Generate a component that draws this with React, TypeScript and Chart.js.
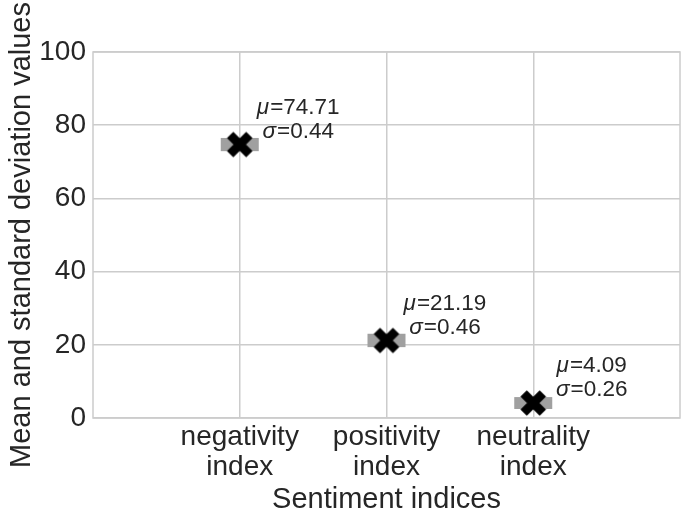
import React, { useEffect, useRef } from 'react';
import { Chart, registerables } from 'chart.js';

Chart.register(...registerables);

const categories: string[][] = [
  ['negativity', 'index'],
  ['positivity', 'index'],
  ['neutrality', 'index'],
];
const means = [74.71, 21.19, 4.09];
const stds = [0.44, 0.46, 0.26];
const yTickValues = [0, 20, 40, 60, 80, 100];

const FONT = "'Liberation Sans', Arial, sans-serif";
const TEXT = '#262626';
const GRID = '#cccccc';
const ERR = '#a0a0a0';

function makeXMarker(): HTMLCanvasElement {
  const c = document.createElement('canvas');
  c.width = 30;
  c.height = 30;
  const g = c.getContext('2d')!;
  g.translate(15, 15);
  g.strokeStyle = '#000';
  g.lineWidth = 9;
  g.lineCap = 'butt';
  const a = 9.6;
  g.beginPath();
  g.moveTo(-a, -a);
  g.lineTo(a, a);
  g.moveTo(a, -a);
  g.lineTo(-a, a);
  g.stroke();
  return c;
}

const decor = {
  id: 'decor',
  beforeDatasetsDraw(chart: any) {
    const { ctx, chartArea: ca, scales } = chart;
    const x = scales.x;
    const y = scales.y;
    ctx.save();
    ctx.strokeStyle = GRID;
    ctx.lineWidth = 1.5;
    ctx.strokeRect(ca.left, ca.top, ca.right - ca.left, ca.bottom - ca.top);
    ctx.fillStyle = ERR;
    means.forEach((m, i) => {
      const px = x.getPixelForValue(i);
      const top = y.getPixelForValue(m + stds[i]) - 5;
      const bot = y.getPixelForValue(m - stds[i]) + 5;
      ctx.fillRect(px - 19, top, 38, bot - top);
    });
    ctx.restore();
  },
  afterDatasetsDraw(chart: any) {
    const { ctx, scales } = chart;
    const x = scales.x;
    const y = scales.y;
    ctx.save();
    ctx.fillStyle = TEXT;
    ctx.textBaseline = 'middle';
    ctx.textAlign = 'left';
    const italic = `italic 22.5px ${FONT}`;
    const normal = `22.5px ${FONT}`;
    const drawLine = (sym: string, rest: string, cx: number, cy: number) => {
      ctx.font = italic;
      const w1 = ctx.measureText(sym).width;
      ctx.font = normal;
      const w2 = ctx.measureText(rest).width;
      const start = cx - (w1 + w2) / 2;
      ctx.font = italic;
      ctx.fillText(sym, start, cy);
      ctx.font = normal;
      ctx.fillText(rest, start + w1 + 1, cy);
    };
    means.forEach((m, i) => {
      const px = x.getPixelForValue(i);
      const py = y.getPixelForValue(m);
      drawLine('\u03BC', '=' + m.toFixed(2), px + 58, py - 37);
      drawLine('\u03C3', '=' + stds[i].toFixed(2), px + 58, py - 13);
    });
    ctx.restore();
  },
};

export default function App() {
  const ref = useRef<HTMLCanvasElement | null>(null);
  useEffect(() => {
    if (!ref.current) return;
    const marker = makeXMarker();
    const chart = new Chart(ref.current, {
      type: 'scatter',
      data: {
        datasets: [
          {
            data: means.map((m, i) => ({ x: i, y: m })),
            pointStyle: marker as any,
            pointRadius: 15,
            backgroundColor: '#000',
            borderColor: '#000',
          },
        ],
      },
      options: {
        animation: false,
        responsive: false,
        maintainAspectRatio: false,
        devicePixelRatio: 1,
        layout: { autoPadding: false, padding: { top: 52, right: 5, left: 0, bottom: 0 } },
        plugins: {
          legend: { display: false },
          tooltip: { enabled: false },
        },
        scales: {
          x: {
            type: 'linear',
            min: -1,
            max: 3,
            afterBuildTicks: (s: any) => {
              s.ticks = categories.map((_, i) => ({ value: i }));
            },
            afterFit: (s: any) => {
              s.height = 97;
              s.paddingLeft = 0;
              s.paddingRight = 0;
            },
            grid: { color: GRID, lineWidth: 1.5, drawTicks: false },
            border: { display: false },
            ticks: {
              color: TEXT,
              font: { family: FONT, size: 28, lineHeight: 1.09 },
              padding: 4,
              maxRotation: 0,
              autoSkip: false,
              callback: (v: any) => categories[Number(v)] ?? '',
            },
            title: {
              display: true,
              text: 'Sentiment indices',
              color: TEXT,
              font: { family: FONT, size: 29, lineHeight: 1 },
              padding: { top: 0, bottom: 0.5 },
            },
          },
          y: {
            type: 'linear',
            min: 0,
            max: 100,
            afterBuildTicks: (s: any) => {
              s.ticks = yTickValues.map((v) => ({ value: v }));
            },
            afterFit: (s: any) => {
              s.width = 93;
            },
            grid: { color: GRID, lineWidth: 1.5, drawTicks: false },
            border: { display: false },
            ticks: {
              color: TEXT,
              font: { family: FONT, size: 28 },
              padding: 7,
            },
            title: {
              display: true,
              text: 'Mean and standard deviation values',
              color: TEXT,
              font: { family: FONT, size: 29, lineHeight: 1.2 },
              padding: { top: 5, bottom: 0 },
            },
          },
        },
      },
      plugins: [decor],
    });
    return () => chart.destroy();
  }, []);
  return (
    <div style={{ position: 'fixed', left: 0, top: 0, width: 685, height: 515, background: '#fff' }}>
      <canvas ref={ref} width={685} height={515} style={{ display: 'block' }} />
    </div>
  );
}
